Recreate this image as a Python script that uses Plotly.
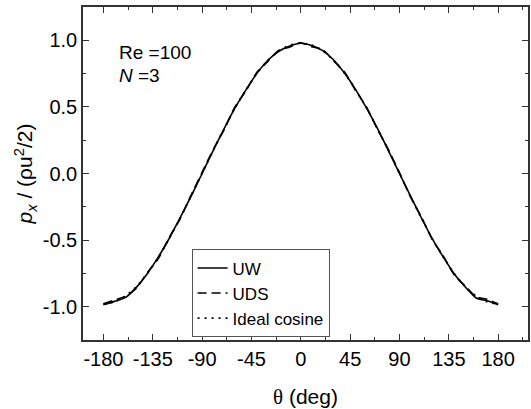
import plotly.graph_objects as go

theta = [-180, -170, -160, -150, -140, -130, -120, -110, -100, -90, -80, -70, -60, -50, -40, -30, -20, -10,
         0, 10, 20, 30, 40, 50, 60, 70, 80, 90, 100, 110, 120, 130, 140, 150, 160, 170, 180]

uw = [-0.985, -0.960, -0.932, -0.855, -0.752, -0.628, -0.488, -0.332, -0.170, 0.000, 0.170, 0.335, 0.492,
      0.628, 0.752, 0.850, 0.918, 0.958, 0.978, 0.960, 0.922, 0.852, 0.752, 0.630, 0.490, 0.336, 0.170,
      0.000, -0.168, -0.334, -0.490, -0.628, -0.754, -0.852, -0.935, -0.955, -0.985]

uds = [-0.978, -0.950, -0.922, -0.862, -0.745, -0.640, -0.480, -0.340, -0.162, 0.008, 0.178, 0.328, 0.500,
       0.620, 0.760, 0.842, 0.925, 0.950, 0.982, 0.952, 0.930, 0.845, 0.760, 0.622, 0.498, 0.330, 0.178,
       0.006, -0.176, -0.326, -0.498, -0.620, -0.762, -0.845, -0.925, -0.945, -0.978]

ideal = [-0.980, -0.965, -0.921, -0.849, -0.751, -0.630, -0.490, -0.335, -0.170, 0.000, 0.170, 0.335, 0.490,
         0.630, 0.751, 0.849, 0.921, 0.965, 0.980, 0.965, 0.921, 0.849, 0.751, 0.630, 0.490, 0.335, 0.170,
         0.000, -0.170, -0.335, -0.490, -0.630, -0.751, -0.849, -0.921, -0.965, -0.980]

xticks = [-180, -135, -90, -45, 0, 45, 90, 135, 180]
yticks = [-1.0, -0.5, 0.0, 0.5, 1.0]

FONT = "Liberation Sans, Arial, sans-serif"
SERIF = "Liberation Serif, Times New Roman, serif"
AX = "#333333"

fig = go.Figure()
fig.add_trace(go.Scatter(x=theta, y=uw, mode="lines", name="UW",
                         line=dict(color="black", width=1.6, shape="spline", smoothing=0.6)))
fig.add_trace(go.Scatter(x=theta, y=uds, mode="lines", name="UDS",
                         line=dict(color="black", width=1.6, dash="9px,5px", shape="spline", smoothing=0.6)))
fig.add_trace(go.Scatter(x=theta, y=ideal, mode="lines", name="Ideal cosine",
                         line=dict(color="black", width=1.6, dash="2px,5px", shape="spline", smoothing=0.6)))

axis_common = dict(showgrid=False, zeroline=False, showline=True, linecolor=AX, linewidth=1.5,
                   mirror="allticks", ticks="inside", ticklen=6, tickwidth=1.3, tickcolor=AX,
                   tickfont=dict(family=FONT, size=20, color="black"))

fig.update_xaxes(range=[-198.6, 207.2], tickvals=xticks, ticktext=[str(v) for v in xticks],
                 minor=dict(ticks="inside", ticklen=3, tickcolor=AX, tickwidth=1.3, dtick=22.5, tick0=-180),
                 title=dict(text="<span style='font-family:" + SERIF + "'>θ</span> (deg)",
                            font=dict(family=FONT, size=21, color="black"), standoff=24),
                 **axis_common)
fig.update_yaxes(range=[-1.25, 1.25], tickvals=yticks, ticktext=["%.1f" % v for v in yticks],
                 minor=dict(ticks="inside", ticklen=3, tickcolor=AX, tickwidth=1.3, dtick=0.25, tick0=-1.0),
                 title=dict(text="<i>p</i><sub><i>x</i></sub> / (ρu<sup>2</sup>/2)",
                            font=dict(family=FONT, size=21, color="black"), standoff=4),
                 **axis_common)

fig.add_annotation(x=0.077, y=0.862, xref="paper", yref="paper", text="Re =100", showarrow=False,
                   xanchor="left", yanchor="middle", font=dict(family=FONT, size=19, color="black"))
fig.add_annotation(x=0.077, y=0.793, xref="paper", yref="paper", text="<i>N</i> =3", showarrow=False,
                   xanchor="left", yanchor="middle", font=dict(family=FONT, size=19, color="black"))

fig.update_layout(
    width=531, height=409, margin=dict(l=83, r=1, t=7, b=69),
    plot_bgcolor="white", paper_bgcolor="white",
    legend=dict(x=0.244, y=0.272, xanchor="left", yanchor="top", bordercolor="#555555", borderwidth=1,
                bgcolor="white", font=dict(family=FONT, size=17, color="black"),
                tracegroupgap=0, itemwidth=30),
    showlegend=True,
)

fig.write_html("out.html")
